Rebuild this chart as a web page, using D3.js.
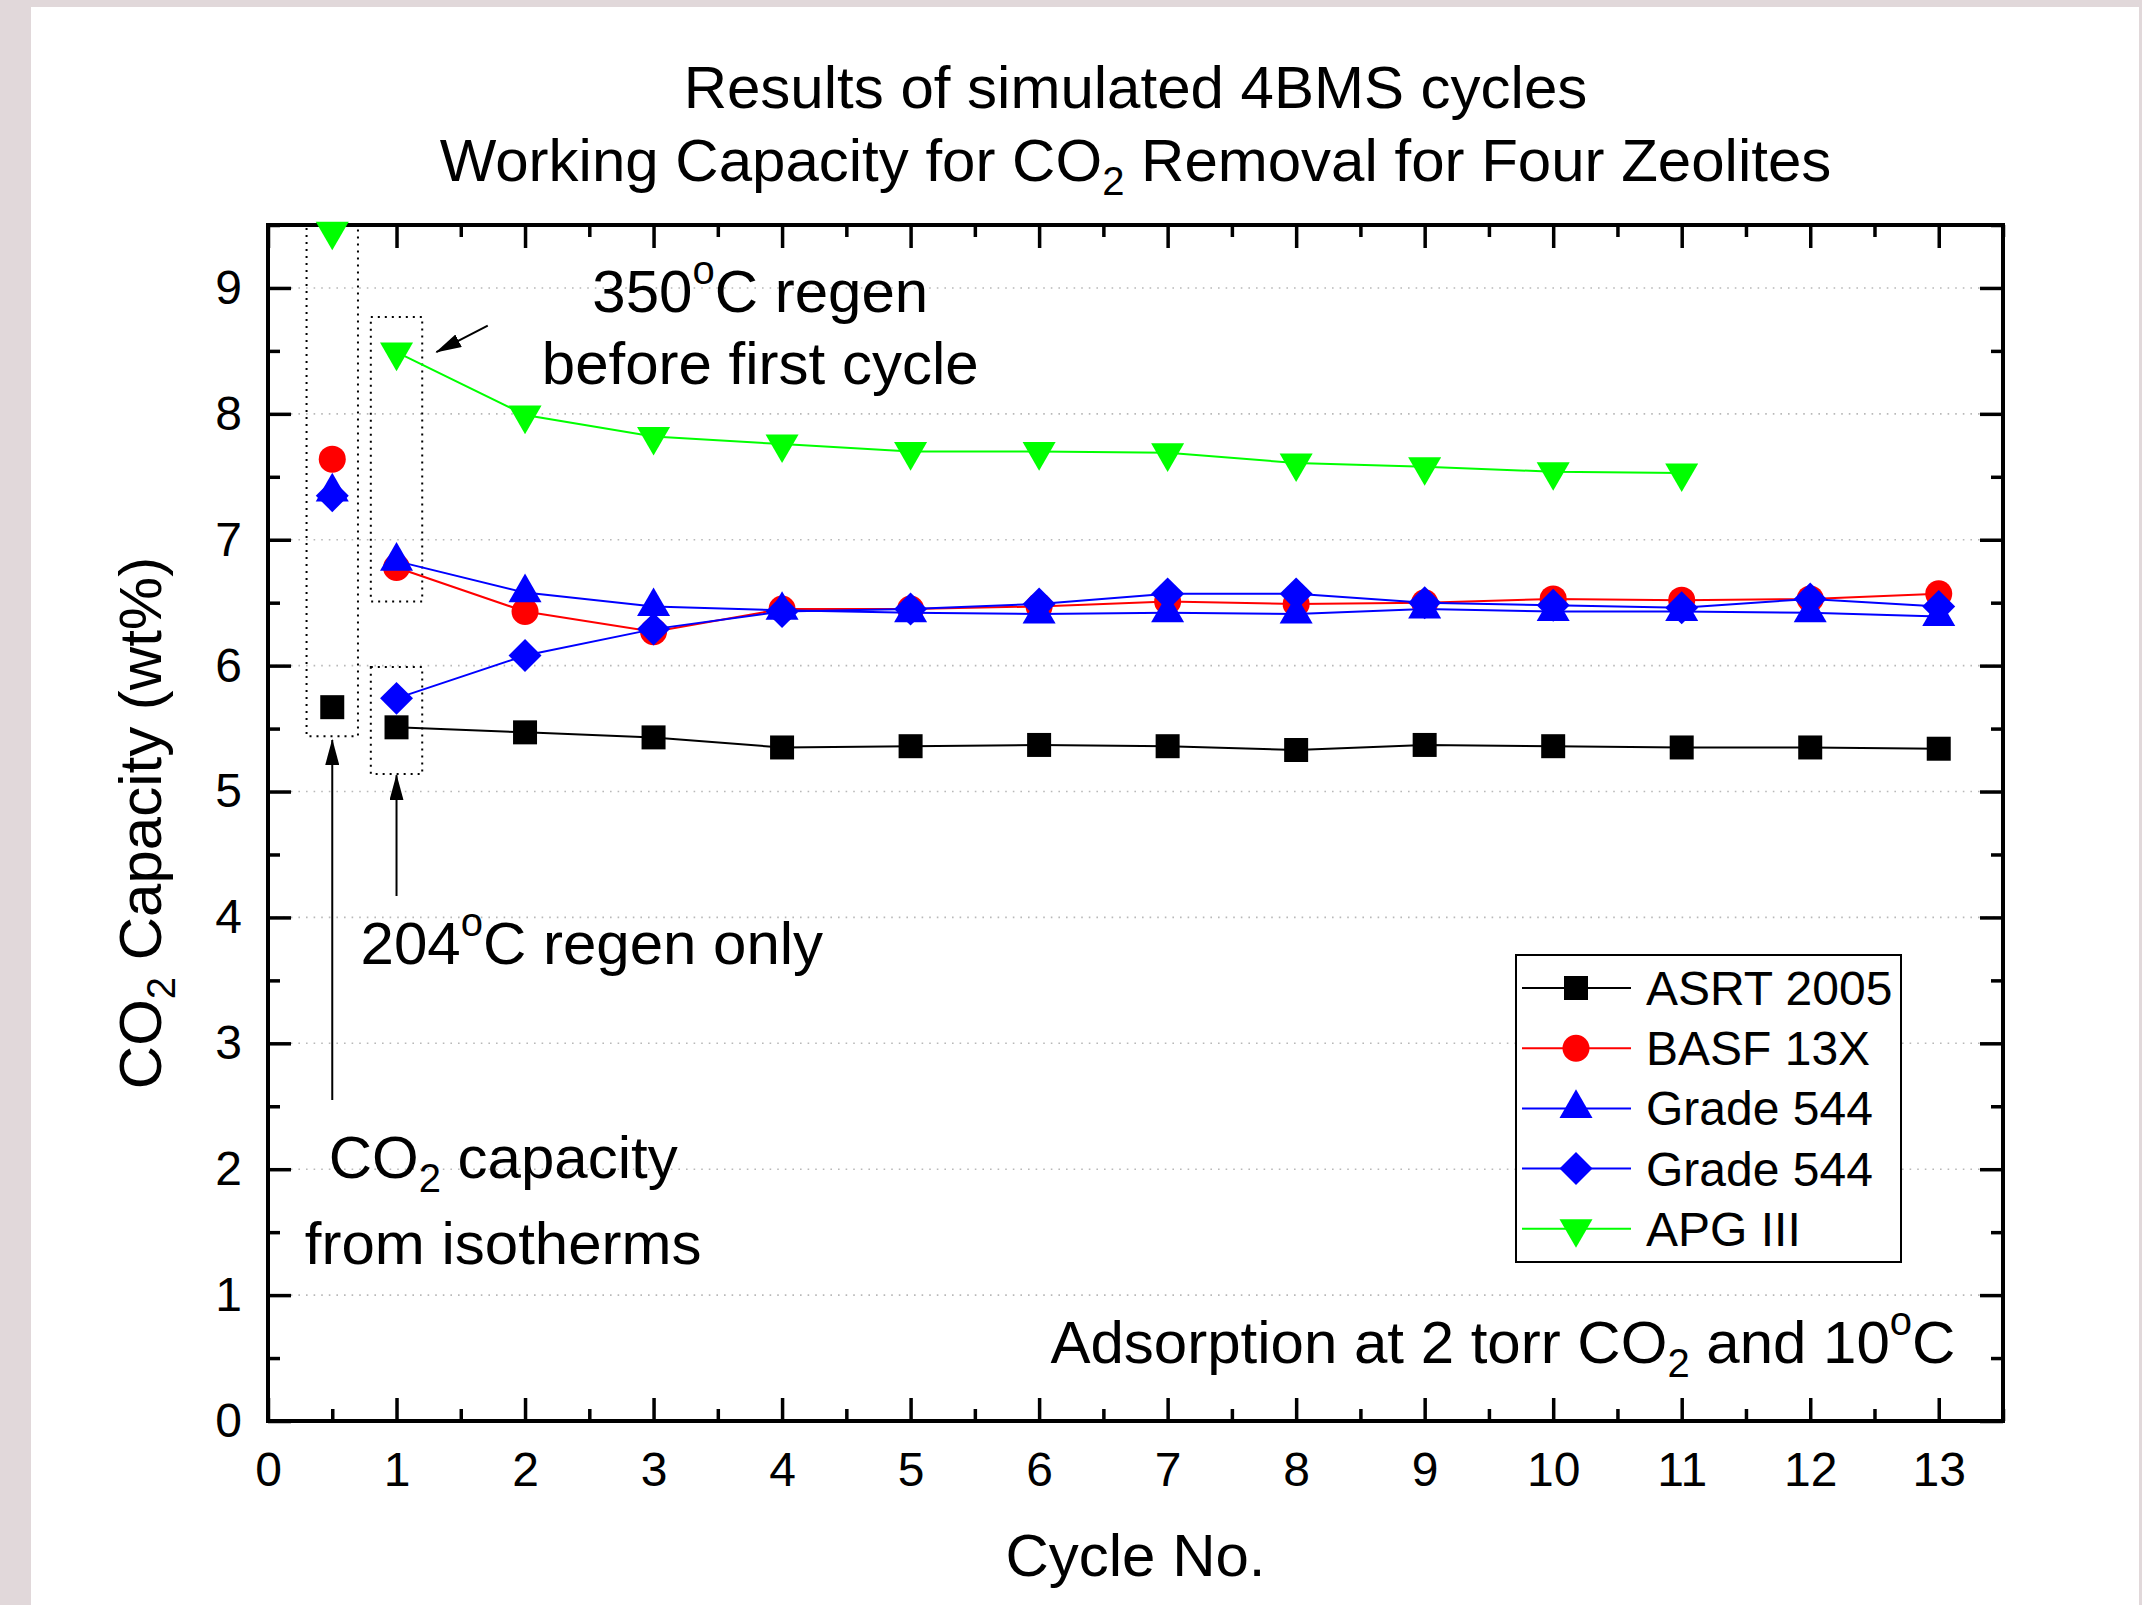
<!DOCTYPE html>
<html>
<head>
<meta charset="utf-8">
<script src="https://cdn.jsdelivr.net/npm/d3@7"></script>
<style>
  html, body { margin: 0; padding: 0; background: #e1d8da; }
  svg { display: block; }
  text { font-family: "Liberation Sans", Arial, Helvetica, sans-serif; fill: #000; }
</style>
</head>
<body>
<svg id="chart" width="2142" height="1605"></svg>
<script>
// ---- data -------------------------------------------------------------
const cycles = [1, 2, 3, 4, 5, 6, 7, 8, 9, 10, 11, 12, 13];
const isothermX = 0.5;                       // capacity from isotherms, plotted left of cycle 1

const asrt2005   = [5.51, 5.47, 5.43, 5.35, 5.36, 5.37, 5.36, 5.33, 5.37, 5.36, 5.35, 5.35, 5.34];
const basf13x    = [6.78, 6.43, 6.27, 6.45, 6.45, 6.47, 6.51, 6.49, 6.50, 6.53, 6.52, 6.53, 6.57];
const grade544a  = [6.83, 6.58, 6.47, 6.44, 6.42, 6.41, 6.42, 6.41, 6.45, 6.43, 6.43, 6.42, 6.39];
const grade544b  = [5.74, 6.08, 6.29, 6.43, 6.45, 6.49, 6.57, 6.57, 6.50, 6.48, 6.46, 6.53, 6.47];
const apgIII     = [8.49, 7.99, 7.82, 7.76, 7.70, 7.70, 7.69, 7.61, 7.58, 7.54, 7.53];

const isothermValues = [5.67, 7.64, 7.38, 7.35, 9.45];   // one per series, same order as below
const seriesNames    = ["ASRT 2005", "BASF 13X", "Grade 544", "Grade 544", "APG III"];
const seriesValues   = [asrt2005, basf13x, grade544a, grade544b, apgIII];
const seriesColors   = ["#000000", "#ff0000", "#0000ff", "#0000ff", "#00ff00"];
const seriesSymbols  = ["square", "circle", "triangle", "diamond", "triangleDown"];

const xTickValues = d3.range(0, 14);         // 0 .. 13
const yTickValues = d3.range(0, 10);         // 0 .. 9

// ---- layout -----------------------------------------------------------
const W = 2142, H = 1605;
const plot = { left: 268, right: 2003, top: 225, bottom: 1421 };
const FONT = 60, TICK_FONT = 48, SMALL = 40;

const svg = d3.select("#chart");

// white page
svg.append("rect").attr("x", 31).attr("y", 7).attr("width", 2108).attr("height", H - 7).attr("fill", "#ffffff");

const x = d3.scaleLinear().domain([0, 13.5]).range([plot.left, plot.right]);
const y = d3.scaleLinear().domain([0, 9.5]).range([plot.bottom, plot.top]);

// text with superscript / subscript pieces
function richText(parent, parts, px, py, anchor, size) {
  const t = parent.append("text")
    .attr("x", px).attr("y", py)
    .attr("text-anchor", anchor)
    .attr("font-size", size);
  let shift = 0;
  parts.forEach(p => {
    const target = p.sup ? -0.47 * size : p.sub ? 0.235 * size : 0;
    const dy = target - shift;
    shift = target;
    t.append("tspan")
      .attr("dy", dy)
      .attr("font-size", (p.sup || p.sub) ? size * 0.667 : size)
      .text(p.t);
  });
  return t;
}

// ---- grid -------------------------------------------------------------
svg.append("g")
  .selectAll("line")
  .data(yTickValues.filter(v => v > 0))
  .join("line")
  .attr("x1", plot.left).attr("x2", plot.right)
  .attr("y1", d => y(d)).attr("y2", d => y(d))
  .attr("stroke", "#b8b8b8")
  .attr("stroke-width", 1.6)
  .attr("stroke-dasharray", "1.6,6");

// ---- annotation boxes (dotted) ----------------------------------------
const boxes = [
  { x0: 0.30, x1: 0.70, y0: 5.44, y1: 9.5 },
  { x0: 0.80, x1: 1.20, y0: 6.51, y1: 8.77 },
  { x0: 0.80, x1: 1.20, y0: 5.14, y1: 5.99 }
];
svg.append("g")
  .selectAll("rect")
  .data(boxes)
  .join("rect")
  .attr("x", d => x(d.x0)).attr("y", d => y(d.y1))
  .attr("width", d => x(d.x1) - x(d.x0))
  .attr("height", d => y(d.y0) - y(d.y1))
  .attr("fill", "none")
  .attr("stroke", "#000")
  .attr("stroke-width", 2)
  .attr("stroke-dasharray", "2,5");

// ---- axes -------------------------------------------------------------
const MAJOR = 23, MINOR = 12;
const xMinor = d3.range(0.5, 13.6, 1);
const yMinor = d3.range(0.5, 9.6, 1);

function styleAxis(g) {
  g.select(".domain").remove();
  g.selectAll(".tick line").attr("stroke", "#000").attr("stroke-width", 3.5);
  g.selectAll("text").attr("font-size", TICK_FONT).attr("font-family", null).attr("fill", "#000");
}

// bottom
svg.append("g").attr("transform", `translate(0,${plot.bottom})`)
  .call(d3.axisBottom(x).tickValues(xTickValues).tickFormat(d3.format("d"))
        .tickSize(-MAJOR).tickSizeOuter(0).tickPadding(31))
  .call(styleAxis);
svg.append("g").attr("transform", `translate(0,${plot.bottom})`)
  .call(d3.axisBottom(x).tickValues(xMinor).tickFormat("").tickSize(-MINOR).tickSizeOuter(0))
  .call(styleAxis);
// top
svg.append("g").attr("transform", `translate(0,${plot.top})`)
  .call(d3.axisTop(x).tickValues(xTickValues).tickFormat("").tickSize(-MAJOR).tickSizeOuter(0))
  .call(styleAxis);
svg.append("g").attr("transform", `translate(0,${plot.top})`)
  .call(d3.axisTop(x).tickValues(xMinor).tickFormat("").tickSize(-MINOR).tickSizeOuter(0))
  .call(styleAxis);
// left
svg.append("g").attr("transform", `translate(${plot.left},0)`)
  .call(d3.axisLeft(y).tickValues(yTickValues).tickFormat(d3.format("d"))
        .tickSize(-MAJOR).tickSizeOuter(0).tickPadding(26))
  .call(styleAxis);
svg.append("g").attr("transform", `translate(${plot.left},0)`)
  .call(d3.axisLeft(y).tickValues(yMinor).tickFormat("").tickSize(-MINOR).tickSizeOuter(0))
  .call(styleAxis);
// right
svg.append("g").attr("transform", `translate(${plot.right},0)`)
  .call(d3.axisRight(y).tickValues(yTickValues).tickFormat("").tickSize(-MAJOR).tickSizeOuter(0))
  .call(styleAxis);
svg.append("g").attr("transform", `translate(${plot.right},0)`)
  .call(d3.axisRight(y).tickValues(yMinor).tickFormat("").tickSize(-MINOR).tickSizeOuter(0))
  .call(styleAxis);

// frame
svg.append("rect")
  .attr("x", plot.left).attr("y", plot.top)
  .attr("width", plot.right - plot.left).attr("height", plot.bottom - plot.top)
  .attr("fill", "none").attr("stroke", "#000").attr("stroke-width", 4);

// ---- symbols ----------------------------------------------------------
const symbolDefs = {
  square:       { type: d3.symbolSquare,   size: 24 * 24, rot: 0 },
  circle:       { type: d3.symbolCircle,   size: Math.PI * 13.5 * 13.5, rot: 0 },
  triangle:     { type: d3.symbolTriangle, size: 472, rot: 0 },
  diamond:      { type: d3.symbolSquare,   size: 23.3 * 23.3, rot: 45 },
  triangleDown: { type: d3.symbolTriangle, size: 472, rot: 180 }
};
function drawSymbol(parent, kind, cx, cy, color) {
  const s = symbolDefs[kind];
  parent.append("path")
    .attr("d", d3.symbol().type(s.type).size(s.size)())
    .attr("transform", `translate(${cx},${cy}) rotate(${s.rot})`)
    .attr("fill", color);
}

// ---- series -----------------------------------------------------------
const line = d3.line().x(d => x(d[0])).y(d => y(d[1]));
const seriesG = svg.append("g");
seriesValues.forEach((vals, i) => {
  const pts = vals.map((v, j) => [cycles[j], v]);
  const g = seriesG.append("g");
  g.append("path")
    .attr("d", line(pts))
    .attr("fill", "none")
    .attr("stroke", seriesColors[i])
    .attr("stroke-width", 2);
  pts.forEach(p => drawSymbol(g, seriesSymbols[i], x(p[0]), y(p[1]), seriesColors[i]));
  drawSymbol(g, seriesSymbols[i], x(isothermX), y(isothermValues[i]), seriesColors[i]);
});

// ---- arrows -----------------------------------------------------------
const defs = svg.append("defs");
defs.append("marker")
  .attr("id", "head")
  .attr("viewBox", "0 0 26 14")
  .attr("refX", 25).attr("refY", 7)
  .attr("markerWidth", 26).attr("markerHeight", 14)
  .attr("markerUnits", "userSpaceOnUse")
  .attr("orient", "auto")
  .append("path").attr("d", "M0,0 L26,7 L0,14 Z").attr("fill", "#000");

const arrows = [
  { from: [1.71, 8.70], to: [1.31, 8.49] },
  { from: [0.5, 2.55],  to: [0.5, 5.41] },
  { from: [1.0, 4.17],  to: [1.0, 5.13] }
];
svg.append("g")
  .selectAll("line")
  .data(arrows)
  .join("line")
  .attr("x1", d => x(d.from[0])).attr("y1", d => y(d.from[1]))
  .attr("x2", d => x(d.to[0])).attr("y2", d => y(d.to[1]))
  .attr("stroke", "#000").attr("stroke-width", 2)
  .attr("marker-end", "url(#head)");

// ---- annotation text --------------------------------------------------
const notes = svg.append("g");
richText(notes, [{ t: "350" }, { t: "o", sup: true }, { t: "C regen" }], x(3.83), y(8.81), "middle", FONT);
richText(notes, [{ t: "before first cycle" }], x(3.83), y(8.24), "middle", FONT);
richText(notes, [{ t: "204" }, { t: "o", sup: true }, { t: "C regen only" }], x(0.72), y(3.63), "start", FONT);
richText(notes, [{ t: "CO" }, { t: "2", sub: true }, { t: " capacity" }], x(1.83), y(1.93), "middle", FONT);
richText(notes, [{ t: "from isotherms" }], x(1.83), y(1.25), "middle", FONT);
richText(notes, [{ t: "Adsorption at 2 torr CO" }, { t: "2", sub: true }, { t: " and 10" }, { t: "o", sup: true }, { t: "C" }],
         x(13.13), y(0.46), "end", FONT);

// ---- legend -----------------------------------------------------------
const legend = svg.append("g");
const lg = { x: 1516, y: 955, w: 385, h: 307, row0: 988, step: 60.2 };
legend.append("rect")
  .attr("x", lg.x).attr("y", lg.y).attr("width", lg.w).attr("height", lg.h)
  .attr("fill", "#fff").attr("stroke", "#000").attr("stroke-width", 2);
seriesNames.forEach((name, i) => {
  const ry = lg.row0 + i * lg.step;
  legend.append("line")
    .attr("x1", lg.x + 6).attr("x2", lg.x + 115)
    .attr("y1", ry).attr("y2", ry)
    .attr("stroke", seriesColors[i]).attr("stroke-width", 2);
  drawSymbol(legend, seriesSymbols[i], lg.x + 60, ry, seriesColors[i]);
  legend.append("text")
    .attr("x", lg.x + 130).attr("y", ry + 17)
    .attr("font-size", TICK_FONT)
    .text(name);
});

// ---- titles -----------------------------------------------------------
const cx = (plot.left + plot.right) / 2;
richText(svg, [{ t: "Results of simulated 4BMS cycles" }], cx, 108, "middle", FONT);
richText(svg, [{ t: "Working Capacity for CO" }, { t: "2", sub: true }, { t: " Removal for Four Zeolites" }], cx, 181, "middle", FONT);
richText(svg, [{ t: "Cycle No." }], cx, 1576, "middle", FONT);

const yTitle = svg.append("g").attr("transform", `translate(161,${(plot.top + plot.bottom) / 2}) rotate(-90)`);
richText(yTitle, [{ t: "CO" }, { t: "2", sub: true }, { t: " Capacity (wt%)" }], 0, 0, "middle", FONT);
</script>
</body>
</html>
